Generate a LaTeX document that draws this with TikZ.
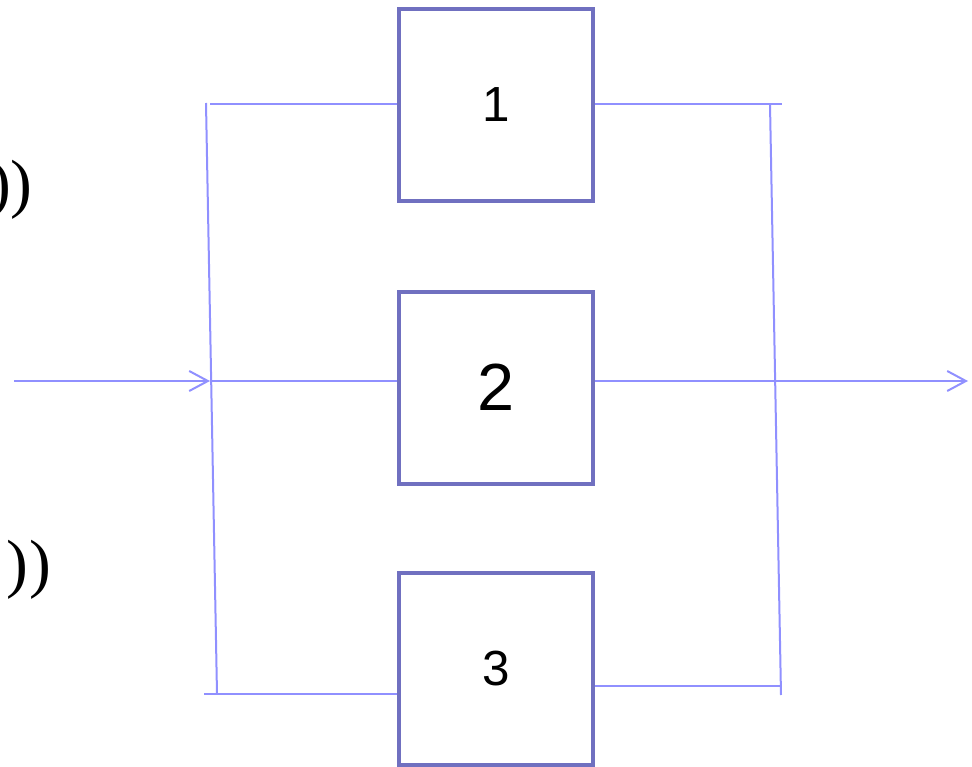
\documentclass[tikz,border=0pt]{standalone}
\usepackage{fontspec}
\setmainfont{Liberation Serif}
\newfontfamily\arialfont{Liberation Sans}
\usetikzlibrary{arrows.meta}
\definecolor{boxc}{RGB}{112,112,192}
\definecolor{linec}{RGB}{144,144,255}
\tikzset{
  blk/.style={draw=boxc, line width=3pt, minimum width=145.5pt, minimum height=144pt, inner sep=0pt, font=\arialfont},
  wire/.style={draw=linec, line width=1.5pt},
  arr/.style={wire, -{Straight Barb[length=14pt,width=15pt,line width=1.5pt]}},
  paren/.style={inner sep=0pt, font=\fontsize{49}{55}\selectfont}
}
\begin{document}
\begin{tikzpicture}[x=0.75pt,y=-0.75pt]
\useasboundingbox (0,0) rectangle (972,767);
\clip (0,0) rectangle (972,767);
\node[blk] (b1) at (496,105) {\fontsize{37}{40}\selectfont 1};
\node[blk] (b2) at (496,387.5) {\fontsize{50}{54}\selectfont 2};
\node[blk] (b3) at (496,669) {\fontsize{37}{40}\selectfont 3};
\node[paren, anchor=east] (p1) at (33,190) {))};
\node[paren, anchor=east] (p2) at (52,570) {)\kern1pt)};
% left bus
\coordinate (lt) at (206,103);
\coordinate (lb) at (217,694);
\coordinate (lbl) at (204,694);
\coordinate (ltr) at (210,104);
\coordinate (in) at (14,381);
\coordinate (lm) at (210,381);
\draw[wire] (lt) -- (lb);
\draw[wire] (ltr) -- (b1.west |- ltr);
\draw[wire] (lbl) -- (b3.west |- lbl);
\draw[arr] (in) -- (lm);
\draw[wire] (lm) -- (b2.west |- lm);
% right bus
\coordinate (rt) at (770,104);
\coordinate (rb) at (781,695);
\coordinate (rtr) at (782,104);
\coordinate (rbr) at (781,686);
\coordinate (out) at (968,381);
\draw[wire] (rt) -- (rb);
\draw[wire] (b1.east |- rtr) -- (rtr);
\draw[wire] (b3.east |- rbr) -- (rbr);
\draw[arr] (b2.east |- out) -- (out);
\end{tikzpicture}
\end{document}
